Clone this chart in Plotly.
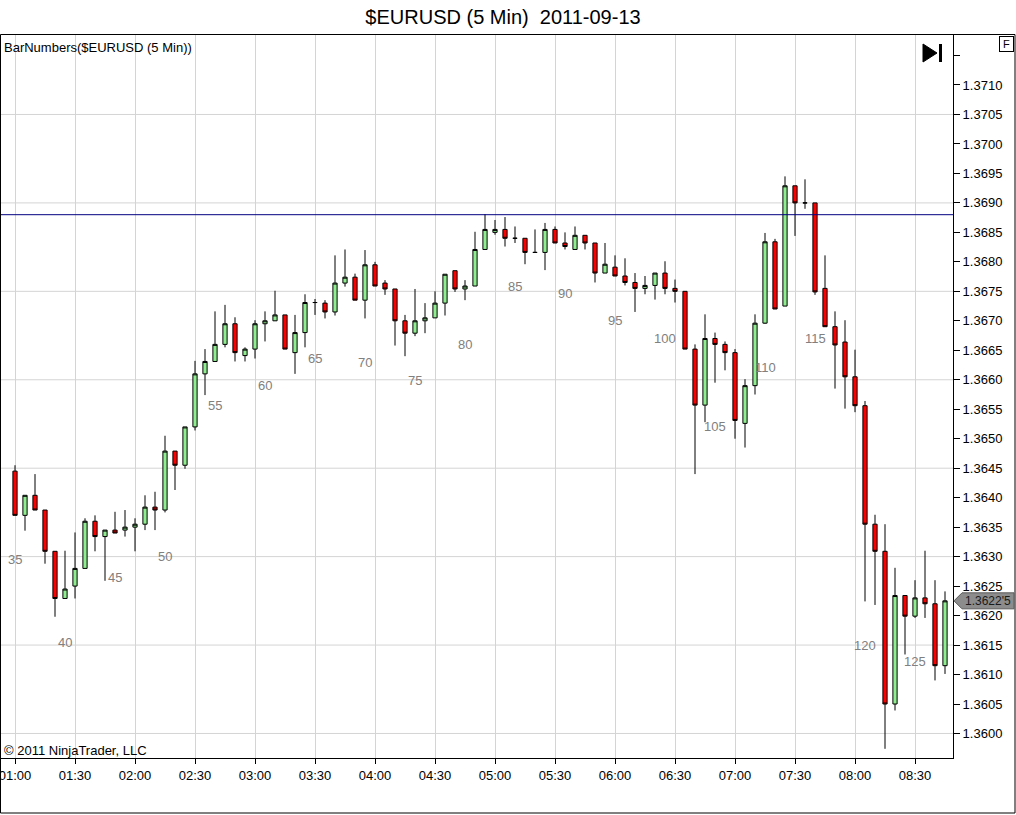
import pandas as pd
import plotly.graph_objects as go

# ── Data (bars 35..128, 5 min, 2011-09-13) ───────────────────────────────────
FIRST_BAR = 35
START = "2011-09-13 01:00"

OPEN = [
    1.36445, 1.36370, 1.36404, 1.36379, 1.36309, 1.36229, 1.36250, 1.36280, 1.36360, 1.36334,
    1.36345, 1.36345, 1.36350, 1.36355, 1.36384, 1.36379, 1.36479, 1.36455, 1.36520, 1.36610,
    1.36631, 1.36660, 1.36695, 1.36641, 1.36652, 1.36695, 1.36700, 1.36710, 1.36646, 1.36680,
    1.36731, 1.36730, 1.36715, 1.36764, 1.36774, 1.36735, 1.36795, 1.36764, 1.36754, 1.36700,
    1.36679, 1.36700, 1.36705, 1.36730, 1.36785, 1.36754, 1.36759, 1.36821, 1.36850, 1.36855,
    1.36840, 1.36840, 1.36816, 1.36816, 1.36855, 1.36832, 1.36821, 1.36845, 1.36832, 1.36781,
    1.36791, 1.36776, 1.36765, 1.36755, 1.36760, 1.36781, 1.36755, 1.36750, 1.36652, 1.36557,
    1.36670, 1.36660, 1.36646, 1.36526, 1.36590, 1.36696, 1.36834, 1.36725, 1.36929, 1.36900,
    1.36900, 1.36755, 1.36690, 1.36664, 1.36605, 1.36556, 1.36355, 1.36309, 1.36050, 1.36234,
    1.36199, 1.36230, 1.36220, 1.36115,
]
HIGH = [
    1.36455, 1.36404, 1.36440, 1.36379, 1.36309, 1.36310, 1.36341, 1.36365, 1.36370, 1.36345,
    1.36376, 1.36379, 1.36365, 1.36404, 1.36410, 1.36505, 1.36479, 1.36520, 1.36632, 1.36652,
    1.36716, 1.36727, 1.36706, 1.36655, 1.36701, 1.36716, 1.36751, 1.36710, 1.36710, 1.36745,
    1.36737, 1.36735, 1.36811, 1.36821, 1.36780, 1.36820, 1.36800, 1.36769, 1.36754, 1.36710,
    1.36754, 1.36730, 1.36750, 1.36779, 1.36785, 1.36769, 1.36851, 1.36881, 1.36871, 1.36876,
    1.36860, 1.36840, 1.36855, 1.36866, 1.36860, 1.36850, 1.36860, 1.36845, 1.36832, 1.36832,
    1.36811, 1.36806, 1.36781, 1.36776, 1.36781, 1.36801, 1.36770, 1.36750, 1.36660, 1.36711,
    1.36680, 1.36665, 1.36652, 1.36601, 1.36711, 1.36849, 1.36839, 1.36945, 1.36929, 1.36940,
    1.36900, 1.36811, 1.36716, 1.36701, 1.36651, 1.36564, 1.36371, 1.36355, 1.36281, 1.36234,
    1.36260, 1.36310, 1.36260, 1.36241,
]
LOW = [
    1.36370, 1.36344, 1.36379, 1.36288, 1.36198, 1.36229, 1.36229, 1.36280, 1.36309, 1.36259,
    1.36340, 1.36334, 1.36309, 1.36345, 1.36345, 1.36375, 1.36413, 1.36449, 1.36514, 1.36574,
    1.36631, 1.36655, 1.36631, 1.36631, 1.36636, 1.36665, 1.36700, 1.36652, 1.36610, 1.36655,
    1.36710, 1.36704, 1.36709, 1.36758, 1.36735, 1.36704, 1.36759, 1.36744, 1.36658, 1.36640,
    1.36674, 1.36679, 1.36705, 1.36709, 1.36749, 1.36735, 1.36759, 1.36821, 1.36846, 1.36826,
    1.36832, 1.36796, 1.36816, 1.36786, 1.36832, 1.36821, 1.36821, 1.36821, 1.36765, 1.36781,
    1.36776, 1.36760, 1.36715, 1.36745, 1.36736, 1.36745, 1.36731, 1.36652, 1.36440, 1.36528,
    1.36595, 1.36616, 1.36500, 1.36485, 1.36575, 1.36695, 1.36720, 1.36725, 1.36844, 1.36890,
    1.36744, 1.36690, 1.36585, 1.36551, 1.36545, 1.36224, 1.36218, 1.35974, 1.36039, 1.36134,
    1.36196, 1.36196, 1.36090, 1.36101,
]
CLOSE = [
    1.36370, 1.36404, 1.36379, 1.36309, 1.36229, 1.36245, 1.36280, 1.36360, 1.36334, 1.36345,
    1.36340, 1.36350, 1.36355, 1.36384, 1.36379, 1.36479, 1.36455, 1.36520, 1.36610, 1.36631,
    1.36660, 1.36695, 1.36646, 1.36652, 1.36695, 1.36700, 1.36710, 1.36652, 1.36680, 1.36731,
    1.36731, 1.36715, 1.36764, 1.36774, 1.36735, 1.36795, 1.36759, 1.36754, 1.36700, 1.36679,
    1.36700, 1.36705, 1.36730, 1.36779, 1.36754, 1.36759, 1.36821, 1.36855, 1.36855, 1.36840,
    1.36840, 1.36816, 1.36816, 1.36855, 1.36832, 1.36826, 1.36845, 1.36832, 1.36781, 1.36796,
    1.36776, 1.36765, 1.36755, 1.36760, 1.36781, 1.36755, 1.36750, 1.36652, 1.36557, 1.36670,
    1.36660, 1.36646, 1.36531, 1.36590, 1.36696, 1.36834, 1.36720, 1.36929, 1.36900, 1.36900,
    1.36749, 1.36690, 1.36659, 1.36605, 1.36556, 1.36355, 1.36309, 1.36050, 1.36234, 1.36199,
    1.36230, 1.36220, 1.36115, 1.36225,
]

Y_TICKS = [1.3600, 1.3605, 1.3610, 1.3615, 1.3620, 1.3625, 1.3630, 1.3635, 1.3640, 1.3645,
           1.3650, 1.3655, 1.3660, 1.3665, 1.3670, 1.3675, 1.3680, 1.3685, 1.3690, 1.3695,
           1.3700, 1.3705, 1.3710, 1.3715]
Y_TICK_TEXT = [f"{v:.4f}" for v in Y_TICKS[:-1]] + [""]
GRID_Y = [1.3600, 1.3615, 1.3630, 1.3645, 1.3660, 1.3675, 1.3690, 1.3705]
LEVEL_LINE = 1.3688
LAST_LABEL = "1.3622'5"

X_RANGE = ["2011-09-13 00:52:30", "2011-09-13 08:49:00"]
Y_RANGE = [1.359584, 1.371848]

# ── Style ────────────────────────────────────────────────────────────────────
FONT = "Arial, 'Liberation Sans', sans-serif"
GRID = "#D4D4D4"
UP = "#90EE90"
DOWN = "#FF0000"
LABEL_GRAY = "#808080"

W, H = 1016, 815
M_L, M_R, M_T, M_B = 0, 63, 35, 57
PW = W - M_L - M_R
PH = H - M_T - M_B


def px_x(x):
    return (x - M_L) / PW


def px_y(y):
    return (H - M_B - y) / PH


times = pd.date_range(START, periods=len(OPEN), freq="5min")
bar_numbers = list(range(FIRST_BAR, FIRST_BAR + len(OPEN)))

fig = go.Figure()
fig.add_trace(
    go.Candlestick(
        x=times, open=OPEN, high=HIGH, low=LOW, close=CLOSE,
        increasing=dict(fillcolor=UP, line=dict(color="black", width=1)),
        decreasing=dict(fillcolor=DOWN, line=dict(color="black", width=1)),
        whiskerwidth=0,
        hoverinfo="skip",
        showlegend=False,
    )
)

# numeros das barras (a cada 5)
for i, n in enumerate(bar_numbers):
    if n % 5 == 0:
        fig.add_annotation(
            x=times[i], y=LOW[i], text=str(n), showarrow=False,
            yshift=-44, font=dict(size=13, color=LABEL_GRAY, family=FONT),
        )

shapes = []
for g in GRID_Y:
    shapes.append(dict(type="line", xref="paper", yref="y", x0=0, x1=1, y0=g, y1=g,
                       line=dict(color=GRID, width=1), layer="below"))
shapes.append(dict(type="line", xref="paper", yref="y", x0=0, x1=1, y0=LEVEL_LINE, y1=LEVEL_LINE,
                   line=dict(color="#000080", width=1)))

# moldura do painel
shapes.append(dict(type="rect", xref="paper", yref="paper",
                   x0=px_x(0.5), x1=px_x(1015), y0=px_y(813), y1=px_y(34.5),
                   line=dict(color="black", width=1)))

# marcador do ultimo preco
half = 8 * (Y_RANGE[1] - Y_RANGE[0]) / PH
last = CLOSE[-1]
x_tip, x_b, x_r = px_x(954), px_x(962), px_x(1014)
shapes.append(dict(
    type="path", xref="paper", yref="y",
    path=(f"M {x_tip},{last} L {x_b},{last + half} L {x_r},{last + half} "
          f"L {x_r},{last - half} L {x_b},{last - half} Z"),
    fillcolor="#8C8C8C", line=dict(color="#5A5A5A", width=1),
))

# icone ▶|
shapes.append(dict(type="path", xref="paper", yref="paper",
                   path=(f"M {px_x(923)},{px_y(44)} L {px_x(937)},{px_y(53)} "
                         f"L {px_x(923)},{px_y(62)} Z"),
                   fillcolor="black", line=dict(color="black", width=1)))
shapes.append(dict(type="rect", xref="paper", yref="paper",
                   x0=px_x(939), x1=px_x(942), y0=px_y(62), y1=px_y(44),
                   fillcolor="black", line=dict(color="black", width=0)))

fig.add_annotation(x=px_x(963), y=last, xref="paper", yref="y", xanchor="left",
                   yanchor="middle", text=LAST_LABEL, showarrow=False,
                   font=dict(size=12, color="#1A1A1A", family=FONT))
fig.add_annotation(x=px_x(2), y=px_y(47), xref="paper", yref="paper", xanchor="left",
                   yanchor="middle", text="BarNumbers($EURUSD (5 Min))", showarrow=False,
                   font=dict(size=13, color="black", family=FONT))
fig.add_annotation(x=px_x(2), y=px_y(750), xref="paper", yref="paper", xanchor="left",
                   yanchor="middle", text="© 2011 NinjaTrader, LLC", showarrow=False,
                   font=dict(size=13, color="black", family=FONT))
fig.add_annotation(x=px_x(1006), y=px_y(44), xref="paper", yref="paper", text="F",
                   xanchor="center", yanchor="middle",
                   showarrow=False, bordercolor="black", borderwidth=1, borderpad=0,
                   bgcolor="white", width=13, height=14,
                   font=dict(size=11, color="black", family=FONT))

fig.update_layout(
    title=dict(text="$EURUSD (5 Min)\u00a0 2011-09-13", x=503 / W, xanchor="center",
               y=1 - 17 / H, yanchor="middle", font=dict(size=20, color="black", family=FONT)),
    width=W, height=H,
    margin=dict(l=M_L, r=M_R, t=M_T, b=M_B, autoexpand=False),
    plot_bgcolor="white", paper_bgcolor="white",
    font=dict(family=FONT, color="black", size=12),
    boxgap=0.4,
    shapes=shapes,
    showlegend=False,
    hovermode=False,
)
fig.update_xaxes(
    range=X_RANGE, rangeslider_visible=False, automargin=False,
    tick0="2011-09-13 01:00", dtick=30 * 60 * 1000, tickformat="%H:%M",
    showgrid=True, gridcolor=GRID, gridwidth=1, zeroline=False,
    showline=True, linecolor="black", linewidth=1,
    ticks="outside", ticklen=5, tickcolor="black",
    tickfont=dict(size=13, family=FONT), ticklabeloverflow="allow",
)
fig.update_yaxes(
    range=Y_RANGE, side="right", automargin=False,
    tickvals=Y_TICKS, ticktext=Y_TICK_TEXT,
    showgrid=False, zeroline=False,
    showline=True, linecolor="black", linewidth=1,
    ticks="outside", ticklen=6, tickcolor="black",
    tickfont=dict(size=13, family=FONT), ticklabeloverflow="allow",
)

fig.write_html("out.html", config={"displayModeBar": False},
               post_script="document.body.style.margin = '0';")
